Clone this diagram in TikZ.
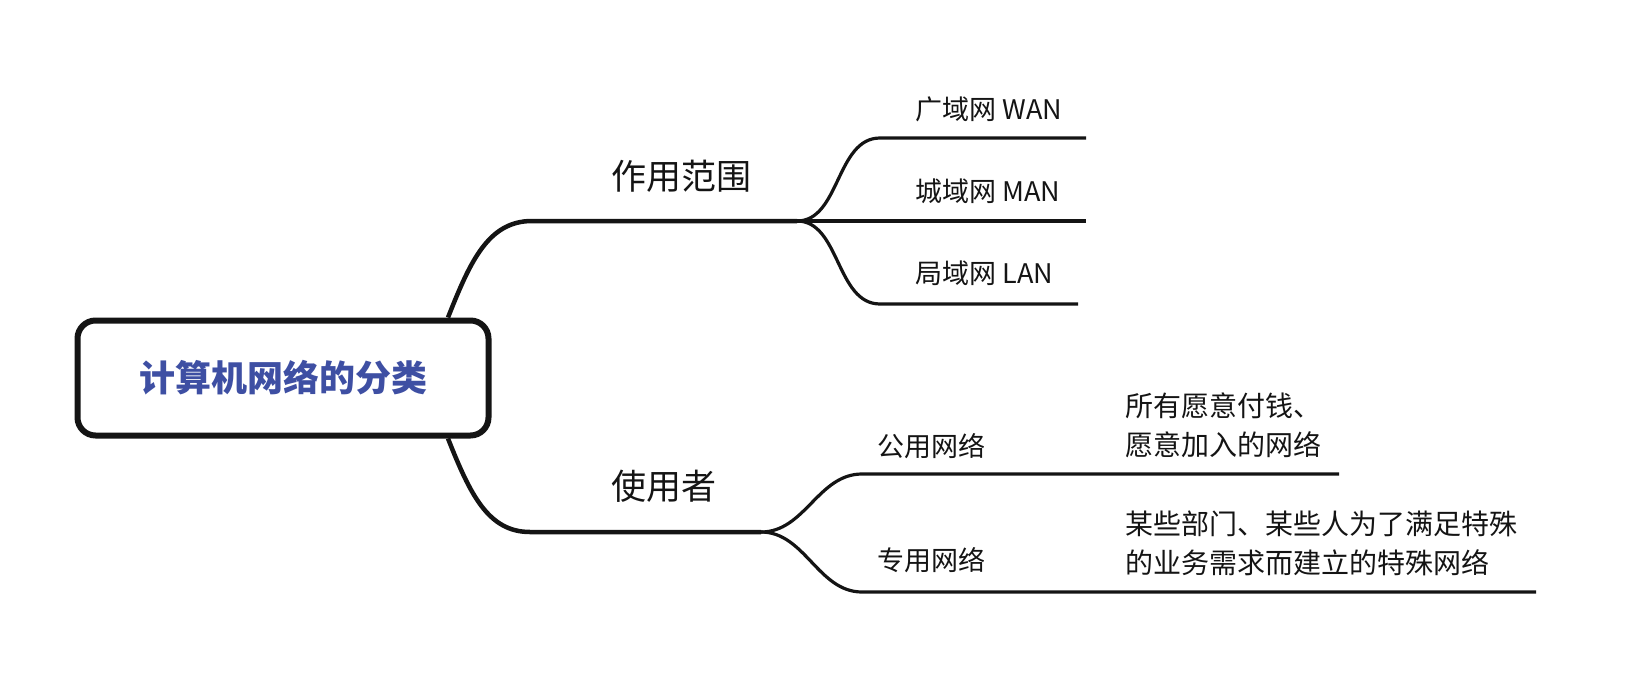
\documentclass[tikz,border=0pt]{standalone}
\usepackage{fontspec}
\newfontfamily\cjk{Noto Sans CJK SC}
\usepackage{tikz}
\usetikzlibrary{calc}
\definecolor{titleblue}{HTML}{3E4FA3}
\definecolor{inkline}{HTML}{141414}
\tikzset{
  branch/.style={draw=inkline,line width=2.25pt},
  twig/.style={draw=inkline,line width=1.6pt},
  topic/.style={inner sep=0pt,text=inkline,font=\cjk\fontsize{17.5}{20}\selectfont},
  lbl/.style={inner sep=0pt,anchor=west,text=inkline,font=\cjk\fontsize{13.5}{16}\selectfont},
  desc/.style={lbl,align=left,font=\cjk\fontsize{14}{19.5}\selectfont},
}

\begin{document}
\begin{tikzpicture}[x=0.5pt,y=-0.5pt]
	\useasboundingbox (0,0) rectangle (1626,690);
	\node[draw=inkline,line width=3pt,rounded corners=9pt,minimum width=205.5pt,minimum height=57.5pt,text=titleblue,font=\cjk\bfseries\fontsize{18}{20}\selectfont] (root) at (283,378) {计算机网络的分类};
	% first level
	\node[topic] (scope) at (681,176) {作用范围};
	\node[topic] (user) at (664,486) {使用者};
	\coordinate (scopeL) at (532,221);
	\coordinate (scopeR) at (797,221);
	\coordinate (userL) at (530,532);
	\coordinate (userR) at (761,532);
	\draw[branch] ($(root.north)+(165,0)$) .. controls (470,262) and (488,221) .. (scopeL) -- (scopeR);
	\draw[branch] ($(root.south)+(165,0)$) .. controls (470,494) and (488,532) .. (userL) -- (userR);
	% range
	\node[lbl] (wan) at (915,109) {广域网 WAN};
	\node[lbl] (man) at (915,191) {城域网 MAN};
	\node[lbl] (lan) at (915,273) {局域网 LAN};
	\coordinate (wanL) at (880,138);
	\coordinate (wanR) at (1086,138);
	\coordinate (manR) at (1086,221);
	\coordinate (lanL) at (880,304);
	\coordinate (lanR) at (1078,304);
	\draw[twig] (scopeR) .. controls (840,221) and (836,138) .. (wanL) -- (wanR);
	\draw[twig] (scopeR) -- (manR);
	\draw[twig] (scopeR) .. controls (840,221) and (836,304) .. (lanL) -- (lanR);
	% users
	\node[lbl] (pub) at (877,446) {公用网络};
	\node[lbl] (priv) at (877,560) {专用网络};
	\node[desc] (pubdesc) at (1125,425) {所有愿意付钱、\\愿意加入的网络};
	\node[desc] (privdesc) at (1125,543) {某些部门、某些人为了满足特殊\\的业务需求而建立的特殊网络};
	\coordinate (pubL) at (862,474);
	\coordinate (pubR) at (1339,474);
	\coordinate (privL) at (862,592);
	\coordinate (privR) at (1536,592);
	\draw[twig] (userR) .. controls (805,532) and (818,474) .. (pubL) -- (pubR);
	\draw[twig] (userR) .. controls (805,532) and (818,592) .. (privL) -- (privR);
\end{tikzpicture}
\end{document}
